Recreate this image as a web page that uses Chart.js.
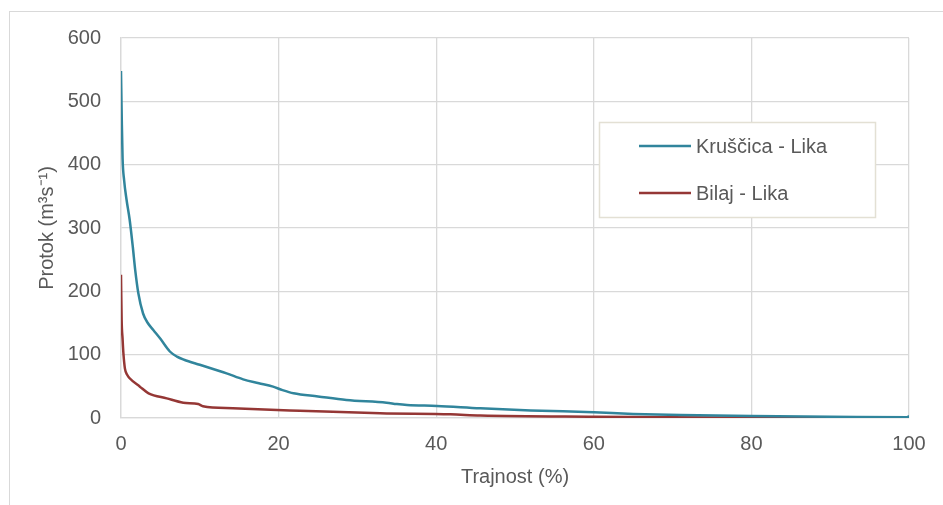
<!DOCTYPE html>
<html>
<head>
<meta charset="utf-8">
<script src="https://cdn.jsdelivr.net/npm/chart.js@4/dist/chart.umd.min.js"></script>
<style>
  html, body { margin: 0; padding: 0; background: #fff; overflow: hidden; }
  #wrap { position: relative; width: 943px; height: 505px; }
  #frame { position: absolute; left: 9px; top: 11px; width: 1000px; height: 600px; border: 1px solid #d9d9d9; box-sizing: border-box; }
  canvas { position: absolute; left: 0; top: 0; }
</style>
</head>
<body>
<div id="wrap">
  <div id="frame"></div>
  <canvas id="chart" width="943" height="505"></canvas>
</div>
<script>
// Krivulje trajanja protoka
const seriesNames = ['Kruščica - Lika', 'Bilaj - Lika'];
const seriesColors = ['#31859c', '#953735'];

const trajnostKruscica = [0, 0.1, 0.2, 0.4, 0.7, 1.1, 1.5, 1.8, 2.2, 2.8, 3.4, 4.1, 5.0, 6.2, 7.1, 8.0, 10, 13.4, 15.5, 17.5, 19.3, 20.5, 21.9, 25, 28.6, 33.7, 35, 36.3, 40.1, 45.6, 52, 60, 65, 71, 80, 90, 99.9, 100];
const protokKruscica = [548, 470, 410, 375, 345, 313, 270, 234, 197, 165, 150, 139, 125, 105, 97, 92, 84, 70.5, 61, 55, 49.5, 44, 39, 34, 28.4, 24.2, 22, 20.5, 19, 15.3, 12, 9, 6.5, 4.7, 3, 2, 1, 4];

const trajnostBilaj = [0, 0.08, 0.2, 0.3, 0.5, 0.8, 1.1, 2.4, 3.5, 5.8, 7.9, 9.8, 10.4, 14.2, 19.8, 22.7, 32.9, 41.8, 45.6, 60, 80, 100];
const protokBilaj = [226, 155, 125, 103, 78, 68, 62.7, 49.5, 39, 31, 24.2, 22, 18.5, 15.3, 12.6, 11.6, 7.4, 5.8, 4, 2, 0.5, 0.2];

const xTicks = [0, 20, 40, 60, 80, 100];
const yTicks = [0, 100, 200, 300, 400, 500, 600];

const textColor = '#595959';
const gridColor = '#d9d9d9';
const fontFamily = '"Liberation Sans", Arial, sans-serif';

function toPoints(xs, ys) {
  return xs.map((x, i) => ({ x: x, y: ys[i] }));
}

// legend box drawn inside the plot, like the original
const boxLegend = {
  id: 'boxLegend',
  afterDraw(chart) {
    const ctx = chart.ctx;
    const left = 599, top = 122, width = 276, height = 95;
    ctx.save();
    ctx.fillStyle = '#fff';
    ctx.fillRect(left, top, width, height);
    ctx.strokeStyle = '#e3e0d4';
    ctx.lineWidth = 1.5;
    ctx.strokeRect(left + 0.5, top + 0.5, width, height);
    ctx.font = '20px ' + fontFamily;
    ctx.textBaseline = 'middle';
    chart.data.datasets.forEach((ds, i) => {
      const y = 146 + i * 47;
      ctx.strokeStyle = ds.borderColor;
      ctx.lineWidth = 2.5;
      ctx.beginPath();
      ctx.moveTo(639, y);
      ctx.lineTo(691, y);
      ctx.stroke();
      ctx.fillStyle = textColor;
      ctx.fillText(ds.label, 696, y + 1);
    });
    ctx.restore();
  }
};

new Chart(document.getElementById('chart'), {
  type: 'line',
  data: {
    datasets: [
      {
        label: seriesNames[0],
        data: toPoints(trajnostKruscica, protokKruscica),
        borderColor: seriesColors[0],
        borderWidth: 2.5,
        pointRadius: 0,
        cubicInterpolationMode: 'monotone'
      },
      {
        label: seriesNames[1],
        data: toPoints(trajnostBilaj, protokBilaj),
        borderColor: seriesColors[1],
        borderWidth: 2.5,
        pointRadius: 0,
        cubicInterpolationMode: 'monotone'
      }
    ]
  },
  options: {
    responsive: false,
    animation: false,
    layout: { padding: { left: 35, right: 34, top: 38, bottom: 0 } },
    plugins: {
      legend: { display: false },
      tooltip: { enabled: false }
    },
    scales: {
      x: {
        type: 'linear',
        min: 0,
        max: 100,
        afterBuildTicks: s => { s.ticks = xTicks.map(v => ({ value: v })); },
        afterFit: s => { s.height = 87; },
        grid: { color: gridColor, lineWidth: 1.3, drawTicks: false },
        border: { color: gridColor, width: 1.3 },
        ticks: { color: textColor, padding: 14, font: { family: fontFamily, size: 20 } },
        title: {
          display: true,
          text: 'Trajnost (%)',
          color: textColor,
          font: { family: fontFamily, size: 20 },
          padding: { top: 0, bottom: 16 }
        }
      },
      y: {
        min: 0,
        max: 600,
        afterBuildTicks: s => { s.ticks = yTicks.map(v => ({ value: v })); },
        afterFit: s => { s.width = 86; },
        grid: { color: gridColor, lineWidth: 1.3, drawTicks: false },
        border: { color: gridColor, width: 1.3 },
        ticks: { color: textColor, padding: 20, font: { family: fontFamily, size: 20 } },
        title: {
          display: true,
          text: 'Protok (m³s⁻¹)',
          color: textColor,
          font: { family: fontFamily, size: 20 },
          padding: 0
        }
      }
    }
  },
  plugins: [boxLegend]
});
</script>
</body>
</html>
